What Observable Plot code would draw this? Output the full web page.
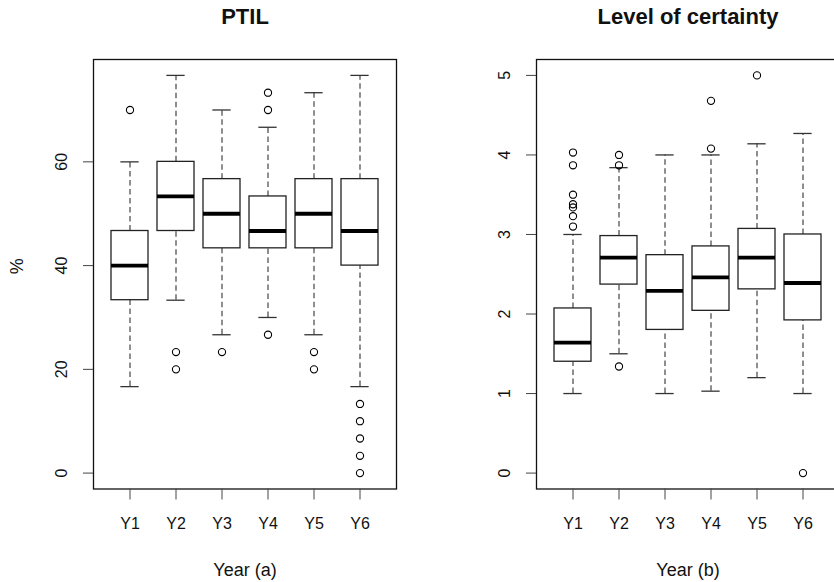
<!DOCTYPE html>
<html>
<head>
<meta charset="utf-8">
<script src="https://cdn.jsdelivr.net/npm/d3@7"></script>
<script src="https://cdn.jsdelivr.net/npm/@observablehq/plot@0.6"></script>
<style>
  html, body { margin: 0; padding: 0; background: white; }
  body { width: 834px; height: 582px; overflow: hidden; position: relative; }
  .panel { position: absolute; top: 0; }
  .panel svg { max-width: none !important; }
</style>
</head>
<body>
<div id="left" class="panel" style="left:0px;width:417px;"></div>
<div id="right" class="panel" style="left:417px;width:444px;"></div>
<script>
// ---------- Data ----------
const years = ["Y1", "Y2", "Y3", "Y4", "Y5", "Y6"];

// Panel (a): PTIL (%)
const ptilLow  = [16.67, 33.33, 26.67, 30.00, 26.67, 16.67];
const ptilQ1   = [33.33, 46.67, 43.33, 43.33, 43.33, 40.00];
const ptilMed  = [40.00, 53.33, 50.00, 46.67, 50.00, 46.67];
const ptilQ3   = [46.67, 60.00, 56.67, 53.33, 56.67, 56.67];
const ptilHigh = [60.00, 76.67, 70.00, 66.67, 73.33, 76.67];
const ptilOutYear  = ["Y1", "Y2", "Y2", "Y3", "Y4", "Y4", "Y4", "Y5", "Y5", "Y6", "Y6", "Y6", "Y6", "Y6"];
const ptilOutValue = [70.00, 23.33, 20.00, 23.33, 73.33, 70.00, 26.67, 23.33, 20.00, 13.33, 10.00, 6.67, 3.33, 0];
const ptilTicks = [0, 20, 40, 60];

// Panel (b): Level of certainty
const certLow  = [1.00, 1.50, 1.00, 1.03, 1.20, 1.00];
const certQ1   = [1.40, 2.37, 1.80, 2.04, 2.31, 1.92];
const certMed  = [1.64, 2.71, 2.29, 2.46, 2.71, 2.39];
const certQ3   = [2.07, 2.98, 2.74, 2.85, 3.07, 3.00];
const certHigh = [3.00, 3.84, 4.00, 4.00, 4.14, 4.27];
const certOutYear  = ["Y1", "Y1", "Y1", "Y1", "Y1", "Y1", "Y1", "Y2", "Y2", "Y2", "Y4", "Y4", "Y5", "Y6"];
const certOutValue = [3.10, 3.23, 3.34, 3.38, 3.50, 3.87, 4.03, 4.00, 3.87, 1.34, 4.08, 4.68, 5.00, 0];
const certTicks = [0, 1, 2, 3, 4, 5];

// ---------- Drawing ----------
function panel(o) {
  const rows = years.map((y, i) => ({year: y, low: o.low[i], q1: o.q1[i], med: o.med[i], q3: o.q3[i], high: o.high[i]}));
  const outs = o.outYear.map((y, i) => ({year: y, value: o.outValue[i]}));
  const frameW = 303;
  const step = frameW / 6.48;
  const capInset = step * 0.8 / 4;
  const dash = {stroke: "#444", strokeWidth: 1.2, strokeDasharray: "5.5,3.5"};
  const marks = [
    Plot.ruleX(rows, {x: "year", y1: "low", y2: "q1", ...dash}),
    Plot.ruleX(rows, {x: "year", y1: "q3", y2: "high", ...dash}),
    Plot.tickY(rows, {x: "year", y: "low", insetLeft: capInset, insetRight: capInset, stroke: "#333", strokeWidth: 1.3}),
    Plot.tickY(rows, {x: "year", y: "high", insetLeft: capInset, insetRight: capInset, stroke: "#333", strokeWidth: 1.3}),
    Plot.barY(rows, {x: "year", y1: "q1", y2: "q3", fill: "white", stroke: "#222", strokeWidth: 1.3}),
    Plot.tickY(rows, {x: "year", y: "med", stroke: "black", strokeWidth: 3.8}),
    Plot.dot(outs, {x: "year", y: "value", r: 3.6, stroke: "black", fill: "none", strokeWidth: 1.1}),
    Plot.frame({stroke: "#111", strokeWidth: 1.3}),
    Plot.axisX({tickSize: 11, tickPadding: 18, label: null, stroke: "#444", fontSize: 16}),
    Plot.axisY({ticks: o.ticks, tickFormat: d => String(d), tickSize: 10, tickRotate: -90, tickPadding: 16.5, label: null, stroke: "#444", fontSize: 16}),
    Plot.text([o.title], {text: d => d, frameAnchor: "top", dy: -36, lineAnchor: "bottom", fontWeight: "bold", fontSize: 22}),
    Plot.text([o.xlabel], {text: d => d, frameAnchor: "bottom", dy: 86.5, lineAnchor: "bottom", fontSize: 18})
  ];
  if (o.ylabel) {
    marks.push(Plot.text([o.ylabel], {text: d => d, frameAnchor: "left", dx: -71, rotate: -90, lineAnchor: "bottom", fontSize: 18}));
  }
  return Plot.plot({
    width: o.width,
    height: 582,
    marginTop: 59,
    marginBottom: 93.5,
    marginLeft: o.marginLeft,
    marginRight: o.width - o.marginLeft - frameW,
    style: {fontFamily: "'Liberation Sans', Arial, sans-serif", fontSize: "16px", color: "#111", background: "white", maxWidth: "none"},
    x: {type: "band", domain: years, paddingInner: 0.2, paddingOuter: 0.34},
    y: {domain: o.yDomain},
    marks
  });
}

document.getElementById("left").append(panel({
  title: "PTIL", xlabel: "Year (a)", ylabel: "%",
  low: ptilLow, q1: ptilQ1, med: ptilMed, q3: ptilQ3, high: ptilHigh,
  outYear: ptilOutYear, outValue: ptilOutValue, ticks: ptilTicks,
  yDomain: [-3.0667, 79.733], width: 417, marginLeft: 93
}));

document.getElementById("right").append(panel({
  title: "Level of certainty", xlabel: "Year (b)", ylabel: null,
  low: certLow, q1: certQ1, med: certMed, q3: certQ3, high: certHigh,
  outYear: certOutYear, outValue: certOutValue, ticks: certTicks,
  yDomain: [-0.2, 5.2], width: 444, marginLeft: 119
}));
</script>
</body>
</html>
